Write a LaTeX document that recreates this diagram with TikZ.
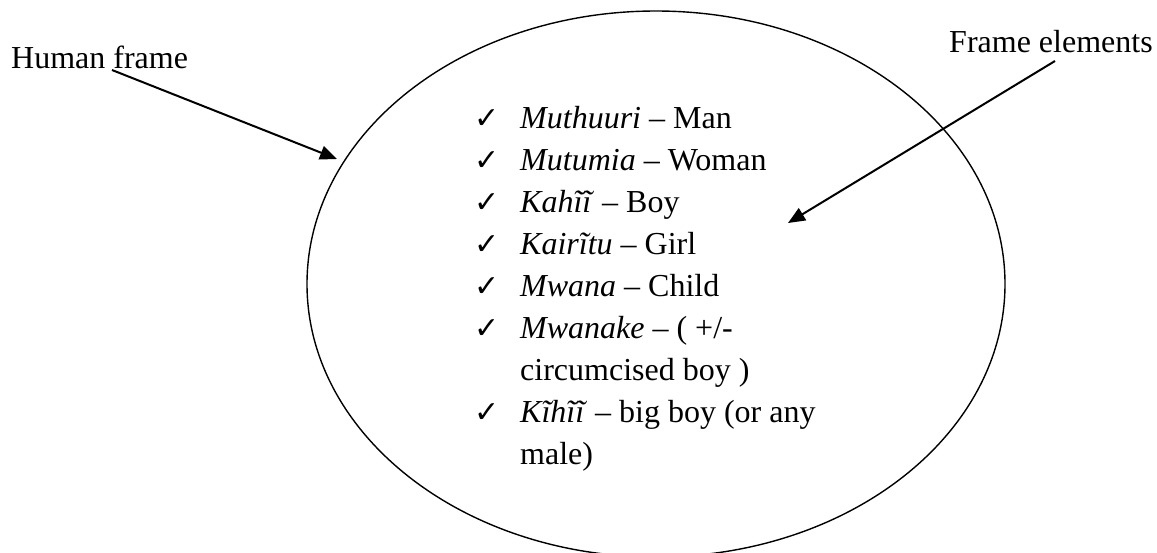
\documentclass[tikz,border=0pt]{standalone}
\usepackage{fontspec}
\setmainfont{Liberation Serif}
\newfontfamily\dejavu{DejaVu Sans}
\usetikzlibrary{arrows.meta}
\begin{document}
\begin{tikzpicture}[x=1pt,y=-1pt,
  lbl/.style={anchor=base west,inner sep=0pt,font=\fontsize{32}{38}\selectfont},
  chk/.style={anchor=base west,inner sep=0pt,font=\dejavu\fontsize{30}{34}\selectfont},
  pointer/.style={line width=2pt,-{Triangle[length=17pt,width=14pt]}}]
\useasboundingbox (0,0) rectangle (1157,552);
\begin{scope}
  \clip (0,0) rectangle (1157,552);
  \draw[line width=1.4pt] (656,284) ellipse [x radius=349pt, y radius=273pt];
\end{scope}
% labels
\node[lbl] (hf) at (11,68) {Human frame};
\node[lbl] (fe) at (949,52) {Frame elements};
% arrows
\coordinate (hfs) at (112,70);
\coordinate (hft) at (337,159);
\coordinate (fes) at (1055,61);
\coordinate (fet) at (788,223);
\draw[pointer] (hfs) -- (hft);
\draw[pointer] (fes) -- (fet);
% list
\node[chk] (c1) at (474,128) {✓};
\node[lbl] (t1) at (520,128) {\textit{Muthuuri} – Man};
\node[chk] (c2) at (474,170) {✓};
\node[lbl] (t2) at (520,170) {\textit{Mutumia} – Woman};
\node[chk] (c3) at (474,212) {✓};
\node[lbl] (t3) at (520,212) {\textit{Kahĩĩ} – Boy};
\node[chk] (c4) at (474,254) {✓};
\node[lbl] (t4) at (520,254) {\textit{Kairĩtu} – Girl};
\node[chk] (c5) at (474,296) {✓};
\node[lbl] (t5) at (520,296) {\textit{Mwana} – Child};
\node[chk] (c6) at (474,338) {✓};
\node[lbl] (t6) at (520,338) {\textit{Mwanake} – ( +/-};
\node[lbl] (t7) at (520,380) {circumcised boy )};
\node[chk] (c8) at (474,422) {✓};
\node[lbl] (t8) at (520,422) {\textit{Kĩhĩĩ} – big boy (or any};
\node[lbl] (t9) at (520,464) {male)};
\end{tikzpicture}
\end{document}
